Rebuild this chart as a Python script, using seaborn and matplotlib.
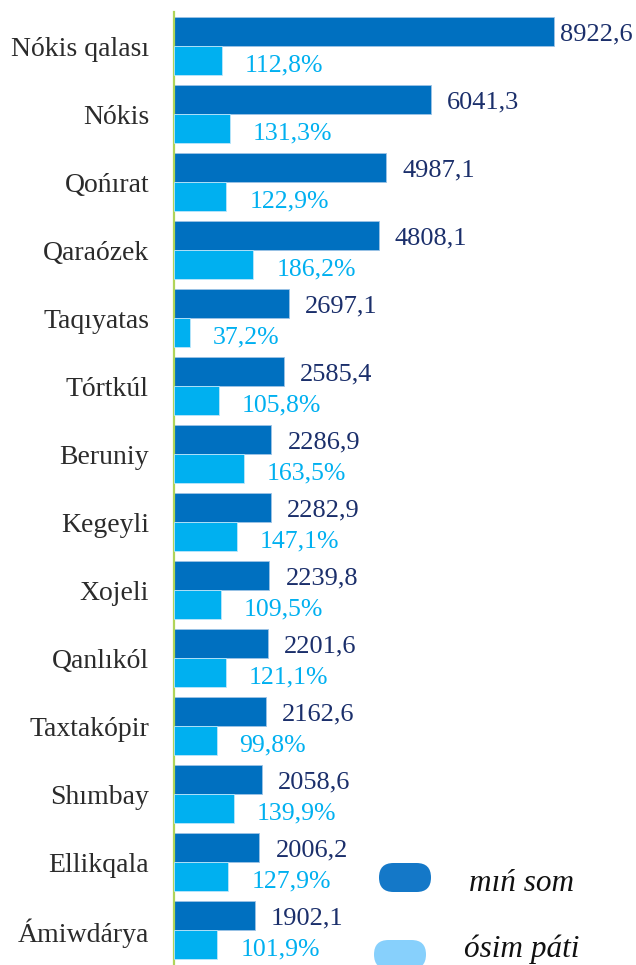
import matplotlib
matplotlib.use("Agg")
import matplotlib.pyplot as plt
from matplotlib.patches import FancyBboxPatch
import seaborn as sns
import pandas as pd

categories = ["Nókis qalası", "Nókis", "Qońırat", "Qaraózek", "Taqıyatas", "Tórtkúl",
              "Beruniy", "Kegeyli", "Xojeli", "Qanlıkól", "Taxtakópir", "Shımbay",
              "Ellikqala", "Ámiwdárya"]
som_values = [8922.6, 6041.3, 4987.1, 4808.1, 2697.1, 2585.4, 2286.9, 2282.9,
              2239.8, 2201.6, 2162.6, 2058.6, 2006.2, 1902.1]
growth_pct = [112.8, 131.3, 122.9, 186.2, 37.2, 105.8, 163.5, 147.1, 109.5,
              121.1, 99.8, 139.9, 127.9, 101.9]
series_names = ["mıń som", "ósim páti"]

DARK = "#0070C0"
LIGHT = "#00B0F0"
NAVY = "#1B2F6B"
SERIF = ["Liberation Serif", "DejaVu Serif"]

sns.set_theme(style="white")
plt.rcParams["font.family"] = SERIF

W, H = 636, 965
fig = plt.figure(figsize=(W / 100, H / 100), dpi=100)
ax = fig.add_axes([174 / W, 1 - 964 / H, 1 - 174 / W, 952 / H])
ax2 = ax.twiny()

df_som = pd.DataFrame({"cat": categories, "val": som_values, "series": series_names[0]})
df_pct = pd.DataFrame({"cat": categories, "val": growth_pct, "series": series_names[1]})
palette = {series_names[0]: DARK, series_names[1]: LIGHT}

sns.barplot(data=df_som, y="cat", x="val", hue="series", hue_order=series_names,
            order=categories, palette=palette, width=0.85, orient="h", dodge=True,
            saturation=1, edgecolor="#9DC3E6", linewidth=0.6, legend=False, ax=ax)
sns.barplot(data=df_pct, y="cat", x="val", hue="series", hue_order=series_names,
            order=categories, palette=palette, width=0.85, orient="h", dodge=True,
            saturation=1, edgecolor="#BDE6FA", linewidth=0.6, legend=False, ax=ax2)

xmax = 10848
ax.set_xlim(0, xmax)
ax2.set_xlim(0, xmax / 10)
ax.set_ylim(len(categories) - 0.5, -0.5)

for a in (ax, ax2):
    a.set_xlabel("")
    a.set_ylabel("")
    a.set_xticks([])
    for s in a.spines.values():
        s.set_visible(False)
    a.grid(False)
    a.set_facecolor("none")
ax.spines["left"].set_visible(True)
ax.spines["left"].set_color("#B0D45A")
ax.spines["left"].set_linewidth(1.6)
ax.tick_params(axis="y", length=0, pad=18, labelsize=20, labelcolor="#2B2B2B")
ax2.tick_params(axis="both", length=0)
for lab in ax.get_yticklabels():
    lab.set_fontfamily(SERIF)

fig.canvas.draw()

# value labels for dark bars
for bar, v in zip(ax.patches, som_values):
    end = bar.get_width()
    yc = bar.get_y() + bar.get_height() / 2
    end_px = ax.transData.transform((end, yc))[0]
    off = min(16, 560 - end_px)
    ax.annotate(f"{v:.1f}".replace(".", ","), xy=(end, yc), xytext=(off, -3),
                textcoords="offset pixels", ha="left", va="center",
                fontsize=19, color=NAVY, fontfamily=SERIF)

for bar, p in zip(ax2.patches, growth_pct):
    end = bar.get_width()
    yc = bar.get_y() + bar.get_height() / 2
    ax2.annotate(f"{p:.1f}%".replace(".", ","), xy=(end, yc), xytext=(23, -5),
                 textcoords="offset pixels", ha="left", va="center",
                 fontsize=18.5, color=LIGHT, fontfamily=SERIF)

# legend overlay in pixel coordinates
ov = fig.add_axes([0, 0, 1, 1], facecolor="none")
ov.set_xlim(0, W)
ov.set_ylim(H, 0)
ov.set_aspect("equal")
ov.axis("off")
ov.add_patch(FancyBboxPatch((379, 863), 52, 29, boxstyle="round,pad=0,rounding_size=14.5",
                            facecolor="#1478C8", edgecolor="none"))
ov.add_patch(FancyBboxPatch((374, 940), 52, 29, boxstyle="round,pad=0,rounding_size=14.5",
                            facecolor="#87D0FC", edgecolor="none"))
ov.text(469, 891, series_names[0], fontsize=22.5, style="italic", color="#111111",
        ha="left", va="baseline", fontfamily=SERIF)
ov.text(464, 957, series_names[1], fontsize=22.5, style="italic", color="#111111",
        ha="left", va="baseline", fontfamily=SERIF)

fig.savefig("out.png", dpi=100)
